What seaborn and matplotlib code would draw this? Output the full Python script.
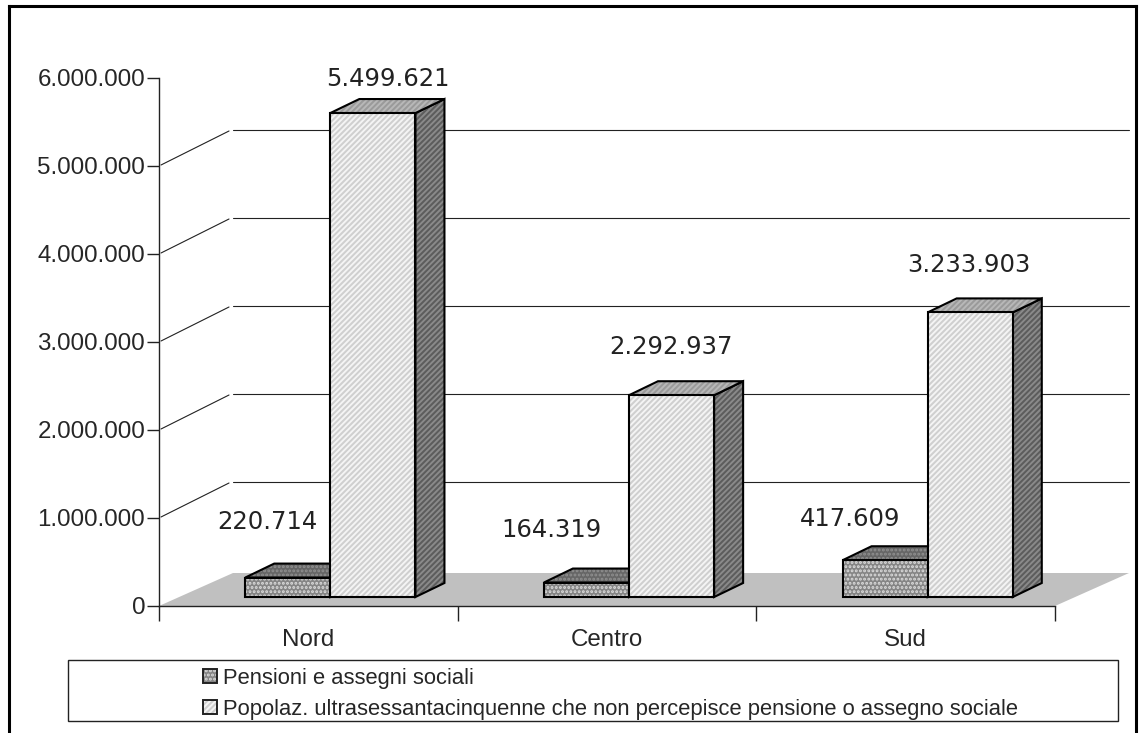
import seaborn as sns
import pandas as pd
import matplotlib.pyplot as plt
from matplotlib.patches import Polygon, Rectangle
from matplotlib.transforms import IdentityTransform
from matplotlib.lines import Line2D

regions = ['Nord', 'Centro', 'Sud']
pensioni = [220714, 164319, 417609]
popolaz = [5499621, 2292937, 3233903]
series_names = ['Pensioni e assegni sociali',
                'Popolaz. ultrasessantacinquenne che non percepisce pensione o assegno sociale']
label_pensioni = ['220.714', '164.319', '417.609']
label_popolaz = ['5.499.621', '2.292.937', '3.233.903']
y_ticks = [0, 1000000, 2000000, 3000000, 4000000, 5000000, 6000000]
y_tick_labels = ['0', '1.000.000', '2.000.000', '3.000.000', '4.000.000', '5.000.000', '6.000.000']

W, H = 1139, 733
sns.set_style('white')
plt.rcParams['font.family'] = ['Liberation Sans', 'DejaVu Sans']
plt.rcParams['hatch.linewidth'] = 1.4

fig = plt.figure(figsize=(W / 100, H / 100), dpi=100)
ax = fig.add_axes([159 / W, 1 - 606 / H, 896 / W, 528 / H])

df = pd.DataFrame({
    'regione': regions * 2,
    'valore': pensioni + popolaz,
    'serie': [series_names[0]] * 3 + [series_names[1]] * 3,
})
sns.barplot(data=df, x='regione', y='valore', hue='serie', hue_order=series_names,
            palette=['#a6a6a6', '#e2e2e2'], saturation=1, width=0.57, legend=False, ax=ax)
ax.set_xlim(-0.5, 2.5)
ax.set_ylim(0, 6000000)
ax.set_xlabel('')
ax.set_ylabel('')

# pixel offsets for the fake 3d look
BAR_DX, BAR_DY = 22, 9
DEPTH_DX, DEPTH_DY = 29, 14
BACK_DX, BACK_DY = 74, 36


def px(x, v, dx=0, dy=0):
    p = ax.transData.transform((x, v))
    return (p[0] + dx, p[1] + dy)


def face(points, color, hatch=None, hatch_color='white', z=2):
    ident = IdentityTransform()
    fig.add_artist(Polygon(points, closed=True, facecolor=color, edgecolor=hatch_color,
                           hatch=hatch, lw=0, transform=ident, zorder=z))
    fig.add_artist(Polygon(points, closed=True, fill=False, edgecolor='black', lw=1.5,
                           joinstyle='miter', transform=ident, zorder=z + 0.01))


# floor and back wall lines
ident = IdentityTransform()
fig.add_artist(Polygon([px(-0.5, 0), px(2.5, 0), px(2.5, 0, 74, 33), px(-0.5, 0, 74, 33)],
                       closed=True, facecolor='#c0c0c0', edgecolor='none', transform=ident, zorder=1))
for v in y_ticks[1:-1]:
    fig.add_artist(Line2D(*zip(px(-0.5, v, BACK_DX, BACK_DY), px(2.5, v, BACK_DX, BACK_DY)),
                          color='#222222', lw=0.8, transform=ident, zorder=1.1))
    fig.add_artist(Line2D(*zip(px(-0.5, v, 2, 1), px(-0.5, v, 70, 35)),
                          color='#222222', lw=0.8, transform=ident, zorder=1.1))

# hide the flat seaborn bars, each one is rebuilt with its depth faces
styles = [
    {'front': '#858585', 'top': '#666666', 'side': '#666666', 'hatch': '....', 'top_hatch': '....', 'hc': '#dcdcdc', 'thc': '#909090'},
    {'front': '#cfcfcf', 'top': '#9a9a9a', 'side': '#5c5c5c', 'hatch': '//////', 'top_hatch': '//////', 'hc': '#f4f4f4', 'thc': '#b8b8b8'},
]
z = 2
for i in range(len(regions)):
    for cont, st in zip(ax.containers, styles):
        bar = cont[i]
        bar.set_visible(False)
        x0, x1, v = bar.get_x(), bar.get_x() + bar.get_width(), bar.get_height()
        a = px(x0, 0, BAR_DX, BAR_DY)
        b = px(x1, 0, BAR_DX, BAR_DY)
        c = px(x1, v, BAR_DX, BAR_DY)
        d = px(x0, v, BAR_DX, BAR_DY)
        shift = lambda p: (p[0] + DEPTH_DX, p[1] + DEPTH_DY)
        face([b, c, shift(c), shift(b)], st['side'], st['hatch'], '#8a8a8a', z)
        face([d, c, shift(c), shift(d)], st['top'], st['top_hatch'], st['thc'], z + 0.1)
        face([a, b, c, d], st['front'], st['hatch'], st['hc'], z + 0.2)
        z += 1

# value labels, placed by hand around the bars like in the original
label_shift_a = [(-20, 56), (-35, 53), (-35, 41)]
label_shift_b = [(15, 34), (-1, 48), (-1, 47)]
for i in range(3):
    b1, b2 = ax.containers[0][i], ax.containers[1][i]
    for b, txt, sh in ((b1, label_pensioni[i], label_shift_a[i]), (b2, label_popolaz[i], label_shift_b[i])):
        p = px(b.get_x() + b.get_width() / 2, b.get_height(), BAR_DX + sh[0], BAR_DY + sh[1])
        fig.text(p[0] / W, p[1] / H, txt, family='DejaVu Sans', fontsize=17.5, color='#222222',
                 ha='center', va='center', zorder=50)

ax.patch.set_visible(False)
ax.set_zorder(20)
sns.despine(ax=ax)
for s in ('left', 'bottom'):
    ax.spines[s].set_linewidth(1.0)
    ax.spines[s].set_color('#222222')
ax.set_yticks(y_ticks)
ax.set_yticklabels(y_tick_labels)
ax.set_xticks([0, 1, 2])
ax.set_xticks([-0.5, 0.5, 1.5, 2.5], minor=True)
ax.tick_params(axis='y', length=9, width=1, color='#222222', labelsize=17.4, pad=1, left=True)
ax.tick_params(axis='x', which='major', length=0, labelsize=17.4, pad=16.5)
ax.tick_params(axis='x', which='minor', length=11, width=1, color='#222222', bottom=True)

# legend box is wider than its text, so the frame is drawn apart
fig.add_artist(Rectangle((68 / W, 1 - 721 / H), 1050 / W, 61 / H, fill=False, edgecolor='#222222',
                         lw=1, transform=fig.transFigure, zorder=30))
handles = [(Rectangle((0, 0), 1, 1, facecolor='#858585', edgecolor='#dcdcdc', hatch='....', lw=0),
            Rectangle((0, 0), 1, 1, fill=False, edgecolor='#222222', lw=1.4)),
           (Rectangle((0, 0), 1, 1, facecolor='#cfcfcf', edgecolor='#f4f4f4', hatch='//////', lw=0),
            Rectangle((0, 0), 1, 1, fill=False, edgecolor='#222222', lw=1.4))]
fig.legend(handles, series_names, loc='upper left', bbox_to_anchor=(203 / W, 1 - 668 / H),
           frameon=False, fontsize=15.8, handlelength=0.62, handleheight=0.62, handletextpad=0.3,
           labelspacing=0.44, borderpad=0, borderaxespad=0)

# outer frame, open at the bottom
for xs, ys in (((9, 9), (733, 6)), ((9, 1136), (6, 6)), ((1136, 1136), (6, 733))):
    fig.add_artist(Line2D([x / W for x in xs], [1 - y / H for y in ys], color='black', lw=2.2,
                          solid_capstyle='projecting', transform=fig.transFigure, zorder=40))

fig.savefig('out.png', dpi=100)
